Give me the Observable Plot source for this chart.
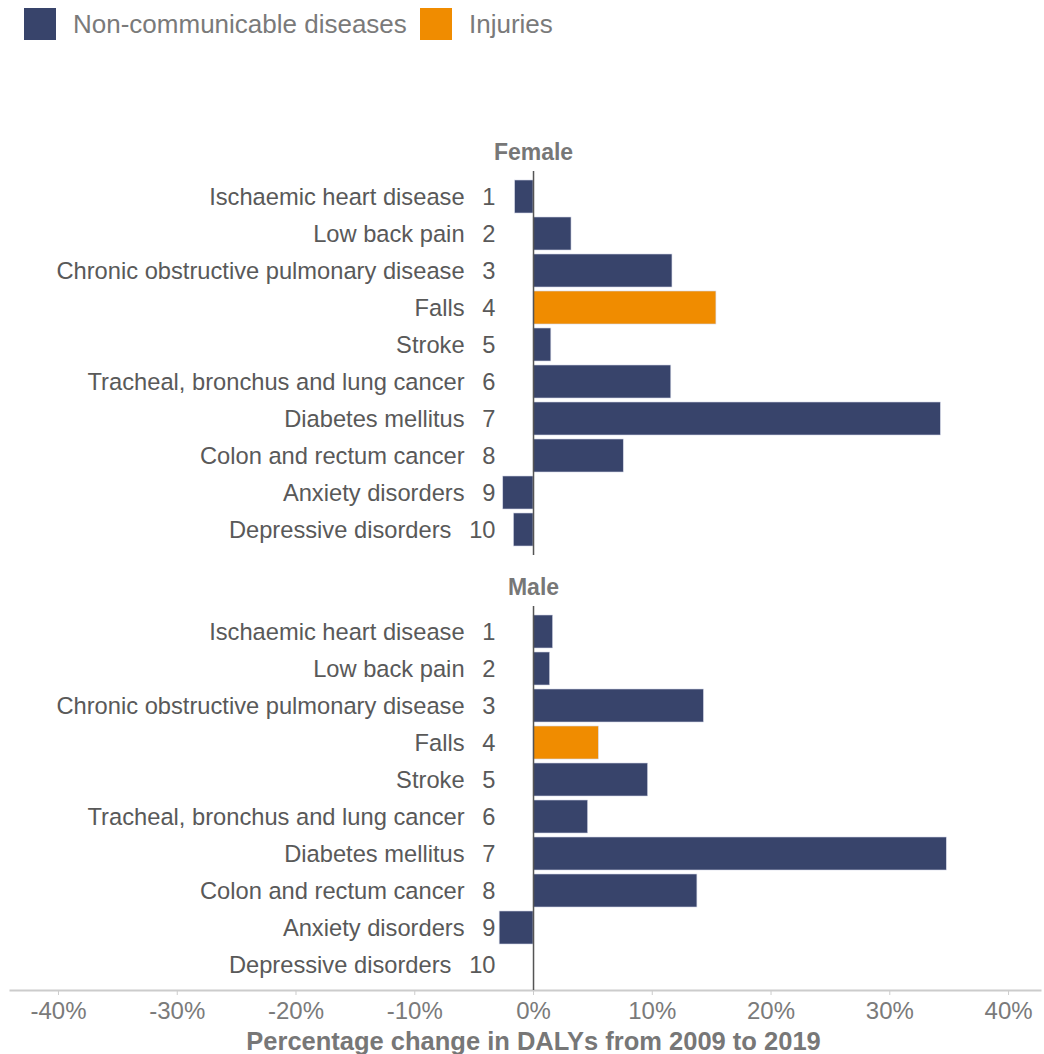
<!DOCTYPE html>
<html>
<head>
<meta charset="utf-8">
<script src="https://cdn.jsdelivr.net/npm/d3@7"></script>
<script src="https://cdn.jsdelivr.net/npm/@observablehq/plot@0.6"></script>
<style>
  html, body { margin: 0; padding: 0; background: #fff; }
  body { font-family: "Liberation Sans", Arial, sans-serif; width: 1044px; }
  #legend { height: 48px; position: relative; }
  .sw { position: absolute; top: 8px; width: 32px; height: 32px; }
  .lt { position: absolute; top: 8px; line-height: 32px; font-size: 26px; color: #7a7a7a; }
</style>
</head>
<body>
<div id="legend"></div>
<div id="chart"></div>
<script>
// ---- data ----
const diseases = [
  "Ischaemic heart disease",
  "Low back pain",
  "Chronic obstructive pulmonary disease",
  "Falls",
  "Stroke",
  "Tracheal, bronchus and lung cancer",
  "Diabetes mellitus",
  "Colon and rectum cancer",
  "Anxiety disorders",
  "Depressive disorders"
];
const ranks = [1, 2, 3, 4, 5, 6, 7, 8, 9, 10];
const causeGroup = [
  "Non-communicable diseases", "Non-communicable diseases", "Non-communicable diseases",
  "Injuries", "Non-communicable diseases", "Non-communicable diseases",
  "Non-communicable diseases", "Non-communicable diseases", "Non-communicable diseases",
  "Non-communicable diseases"
];
const sexes = ["Female", "Male"];
const femaleChange = [-1.55, 3.2, 11.7, 15.4, 1.5, 11.6, 34.3, 7.6, -2.55, -1.65];
const maleChange = [1.65, 1.4, 14.35, 5.5, 9.65, 4.6, 34.8, 13.8, -2.85, 0];
const groups = ["Non-communicable diseases", "Injuries"];
const groupColors = ["#38446b", "#f08c00"];
const xTicks = [-40, -30, -20, -10, 0, 10, 20, 30, 40];
const xLabel = "Percentage change in DALYs from 2009 to 2019";

const rows = [];
sexes.forEach((sex, si) => {
  const vals = si === 0 ? femaleChange : maleChange;
  diseases.forEach((d, i) => {
    rows.push({sex, disease: d, rank: ranks[i], group: causeGroup[i], value: vals[i]});
  });
});

// ---- legend ----
const legend = document.getElementById("legend");
const swX = [24, 420];
const txX = [73, 469];
groups.forEach((g, i) => {
  const s = document.createElement("div");
  s.className = "sw"; s.style.left = swX[i] + "px"; s.style.background = groupColors[i];
  const t = document.createElement("div");
  t.className = "lt"; t.style.left = txX[i] + "px"; t.textContent = g;
  legend.appendChild(s); legend.appendChild(t);
});

// ---- chart ----
const chart = Plot.plot({
  width: 1044,
  height: 1006,
  marginLeft: 10,
  marginRight: 4,
  marginTop: 122,
  marginBottom: 64,
  style: {fontFamily: "'Liberation Sans', Arial, sans-serif", background: "#fff"},
  x: {domain: [-44.04, 42.69]},
  y: {domain: ranks, padding: 0.12, axis: null},
  fy: {domain: sexes, paddingInner: 0.118, paddingOuter: 0, axis: null},
  color: {domain: groups, range: groupColors},
  marks: [
    Plot.frame({anchor: "bottom", fy: () => "Male", stroke: "#cccccc", strokeWidth: 2}),
    Plot.barX(rows, {x: "value", y: "rank", fy: "sex", fill: "group", stroke: "#d4d7e6", strokeWidth: 0.6}),
    Plot.ruleX([0], {stroke: "#555555", strokeWidth: 1.5}),
    Plot.text(rows, {
      x: () => 0, y: "rank", fy: "sex",
      text: d => `${d.disease}\u2002\u2005${d.rank}`,
      textAnchor: "end", dx: -38, fontSize: 23.7, fill: "#595959"
    }),
    Plot.text(sexes, {
      x: () => 0, fy: d => d, text: d => d, frameAnchor: "top", lineAnchor: "middle", dy: -19,
      fontSize: 23, fontWeight: "bold", fill: "#777777"
    }),
    Plot.axisX({
      ticks: xTicks, tickFormat: d => `${d}%`, tickSize: 5, tickPadding: 6,
      stroke: "#cccccc", fill: "#7a7a7a", fontSize: 24, label: null
    }),
    Plot.text([xLabel], {
      x: () => 0, fy: () => "Male", text: d => d, frameAnchor: "bottom", lineAnchor: "middle", dy: 51,
      fontSize: 25.5, fontWeight: "bold", fill: "#777777"
    })
  ]
});
document.getElementById("chart").appendChild(chart);
</script>
</body>
</html>
